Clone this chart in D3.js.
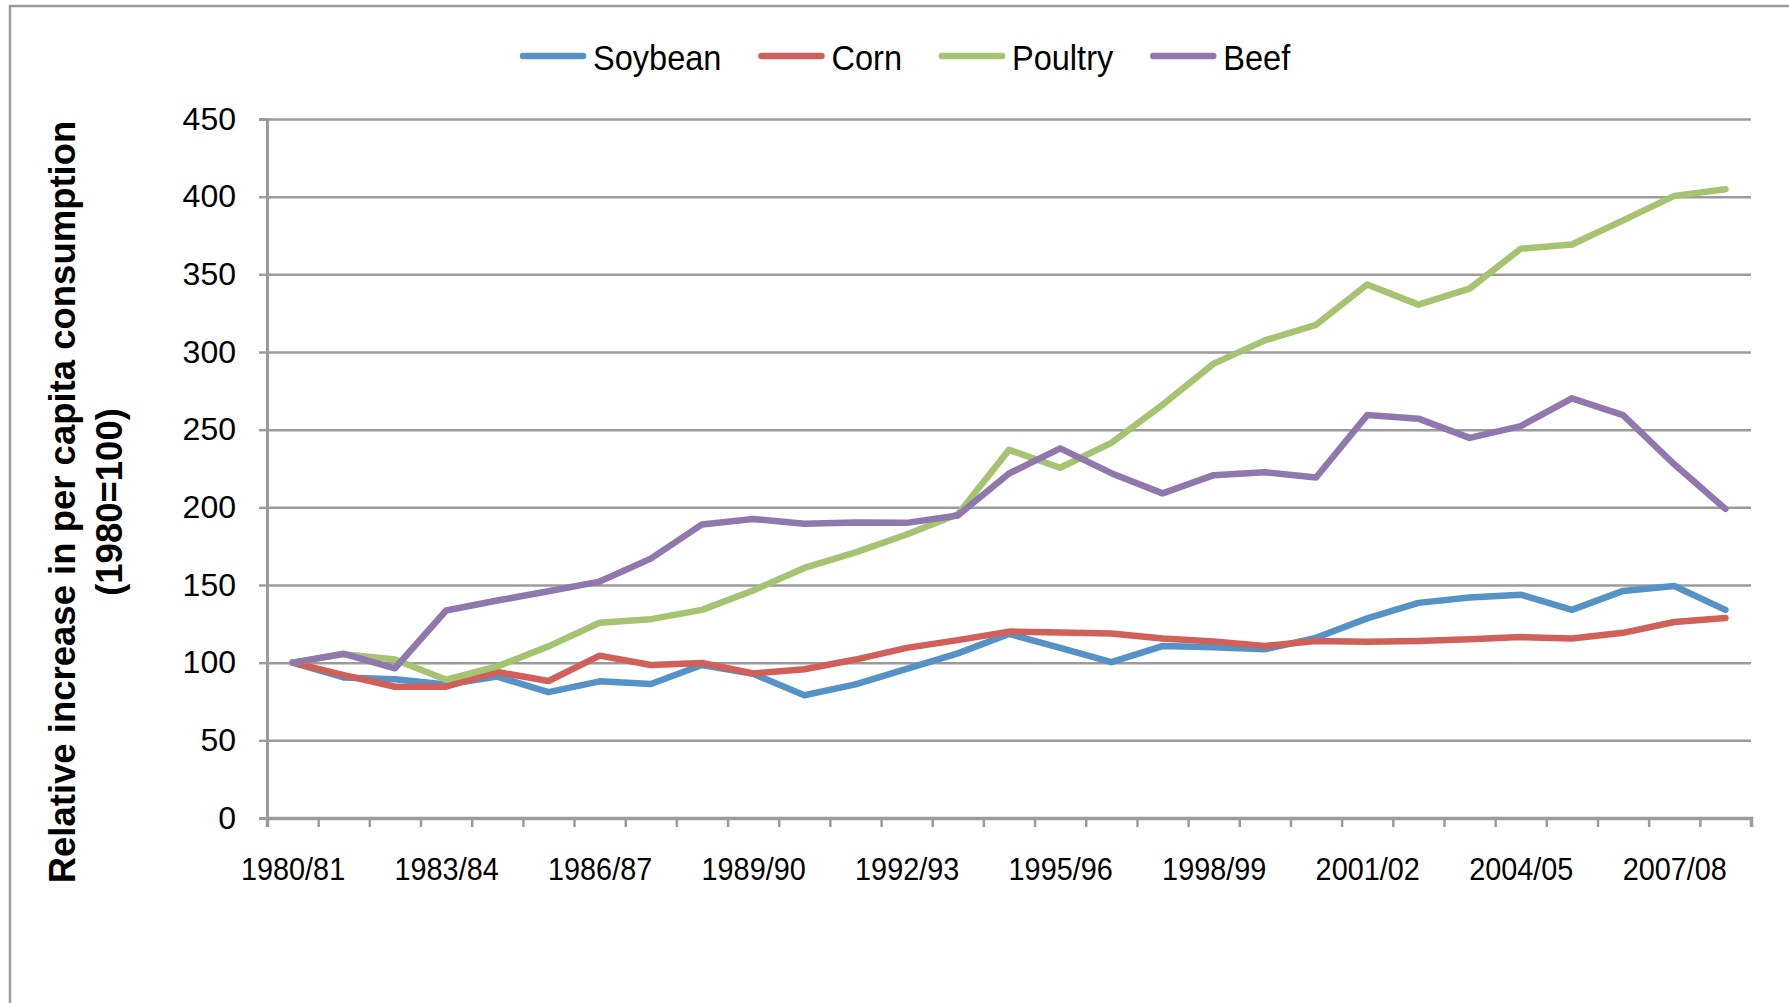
<!DOCTYPE html>
<html>
<head>
<meta charset="utf-8">
<script src="https://cdn.jsdelivr.net/npm/d3@7"></script>
<style>
  html, body { margin: 0; padding: 0; background: #fff; overflow: hidden; }
  svg { display: block; font-family: "Liberation Sans", Arial, sans-serif; }
</style>
</head>
<body>
<div id="chart"></div>
<script>
// marketing years on the x axis
const SEASONS = [
  "1980/81", "1981/82", "1982/83", "1983/84", "1984/85", "1985/86", "1986/87", "1987/88",
  "1988/89", "1989/90", "1990/91", "1991/92", "1992/93", "1993/94", "1994/95", "1995/96",
  "1996/97", "1997/98", "1998/99", "1999/00", "2000/01", "2001/02", "2002/03", "2003/04",
  "2004/05", "2005/06", "2006/07", "2007/08", "2008/09"
];

// relative per capita consumption, 1980 = 100
const SOYBEAN = [100, 90.5, 89.3, 86, 91, 81, 88, 86.3, 98.5, 92.8, 79, 86, 96, 106, 118.5,
  109.5, 100.3, 110.7, 110, 108.6, 116, 128.5, 138.5, 142, 143.8, 134, 146.2, 149.4, 134];
const CORN = [100, 92, 84.5, 84.5, 94, 88.2, 104.5, 98.5, 99.8, 93, 95.8, 102, 109.5, 114.5, 120,
  119.5, 118.8, 115.5, 113.7, 110.7, 114, 113.4, 114, 115, 116.5, 115.5, 119.2, 126.2, 128.8];
const POULTRY = [100, 105.5, 102, 89, 97.6, 110.5, 125.7, 128, 134, 146.5, 161, 171, 182.5, 195.5, 237,
  225.5, 241.5, 266, 292.5, 307.5, 317.5, 343.5, 330.5, 340.8, 366.5, 369.2, 384.7, 400.5, 404.8];
const BEEF = [100, 105.7, 96.4, 133.6, 140, 146, 152.2, 167, 189, 192.5, 189.4, 190.3, 190, 194.8, 221.8,
  238, 222, 209, 220.7, 222.6, 219.2, 259.4, 257.1, 244.7, 252.3, 270.2, 259.4, 227.7, 199];

const SERIES_NAMES = ["Soybean", "Corn", "Poultry", "Beef"];
const SERIES_VALUES = [SOYBEAN, CORN, POULTRY, BEEF];
const SERIES_COLORS = ["#5592c5", "#d15f5a", "#a5c370", "#9078ae"];

const Y_TICKS = [0, 50, 100, 150, 200, 250, 300, 350, 400, 450];
const Y_TITLE = ["Relative increase in per capita consumption", "(1980=100)"];

const width = 1789;
const height = 1003;
const plot = { left: 267, right: 1751, top: 119, bottom: 818 };
const GRID = "#9b9b9b";
// the source text is a little narrower than Arial, squeeze it slightly
const SQUEEZE = 0.93;

const svg = d3.select("#chart").append("svg")
  .attr("width", width)
  .attr("height", height);

// chart area frame (right / bottom edges fall outside the picture)
svg.append("rect")
  .attr("x", 10).attr("y", 6)
  .attr("width", width + 40).attr("height", height + 40)
  .attr("fill", "#fff")
  .attr("stroke", GRID)
  .attr("stroke-width", 2.5);

const x = d3.scalePoint()
  .domain(SEASONS)
  .range([plot.left, plot.right])
  .padding(0.5);

// category boundaries for the tick marks
const xEdge = d3.scaleLinear()
  .domain([0, SEASONS.length])
  .range([plot.left, plot.right]);

const y = d3.scaleLinear()
  .domain([0, 450])
  .range([plot.bottom, plot.top]);

// gridlines
const grid = svg.append("g")
  .attr("transform", `translate(${plot.left},0)`)
  .call(d3.axisLeft(y).tickValues(Y_TICKS.slice(1)).tickSize(-(plot.right - plot.left)).tickFormat(""));
grid.select(".domain").remove();
grid.selectAll("line").attr("stroke", GRID).attr("stroke-width", 2.5);

// y axis
const yAxis = svg.append("g")
  .attr("transform", `translate(${plot.left},0)`)
  .call(d3.axisLeft(y).tickValues(Y_TICKS).tickSize(8).tickPadding(23));
yAxis.select(".domain").attr("stroke", GRID).attr("stroke-width", 3);
yAxis.selectAll("line").attr("stroke", GRID).attr("stroke-width", 2.5);
yAxis.selectAll("text")
  .attr("fill", "#000")
  .style("font-size", "32px");

// x axis tick marks
const xTicks = svg.append("g")
  .attr("transform", `translate(0,${plot.bottom})`)
  .call(d3.axisBottom(xEdge).tickValues(d3.range(SEASONS.length + 1)).tickSize(9).tickFormat(""));
xTicks.select(".domain").attr("stroke", GRID).attr("stroke-width", 3.5);
xTicks.selectAll("line").attr("stroke", GRID).attr("stroke-width", 2.5);

// x axis labels, every third season
const xLabels = svg.append("g")
  .attr("transform", `translate(0,${plot.bottom})`)
  .call(d3.axisBottom(x).tickSize(0).tickPadding(40)
    .tickFormat((d, i) => i % 3 === 0 ? d : ""));
xLabels.select(".domain").remove();
xLabels.selectAll("text")
  .attr("fill", "#000")
  .attr("transform", `scale(${SQUEEZE},1)`)
  .style("font-size", "31px");

// series lines
const line = d3.line()
  .x((d, i) => x(SEASONS[i]))
  .y(d => y(d));

SERIES_VALUES.forEach((vals, k) => {
  svg.append("path")
    .datum(vals)
    .attr("d", line)
    .attr("fill", "none")
    .attr("stroke", SERIES_COLORS[k])
    .attr("stroke-width", 6.5)
    .attr("stroke-linejoin", "round")
    .attr("stroke-linecap", "round");
});

// legend
const legend = svg.append("g");
let lx = 520;
SERIES_NAMES.forEach((name, k) => {
  legend.append("line")
    .attr("x1", lx + 3).attr("x2", lx + 63)
    .attr("y1", 56).attr("y2", 56)
    .attr("stroke", SERIES_COLORS[k])
    .attr("stroke-width", 6.5)
    .attr("stroke-linecap", "round");
  const t = legend.append("text")
    .attr("transform", `translate(${lx + 73},70) scale(${SQUEEZE},1)`)
    .attr("fill", "#000")
    .style("font-size", "35px")
    .text(name);
  lx += 73 + t.node().getComputedTextLength() * SQUEEZE + 37;
});

// y axis title, two lines
Y_TITLE.forEach((txt, i) => {
  svg.append("text")
    .attr("transform", `translate(${75 + i * 46.5},502) rotate(-90)`)
    .attr("text-anchor", "middle")
    .attr("fill", "#000")
    .style("font-size", "36.5px")
    .style("font-weight", "bold")
    .text(txt);
});
</script>
</body>
</html>
